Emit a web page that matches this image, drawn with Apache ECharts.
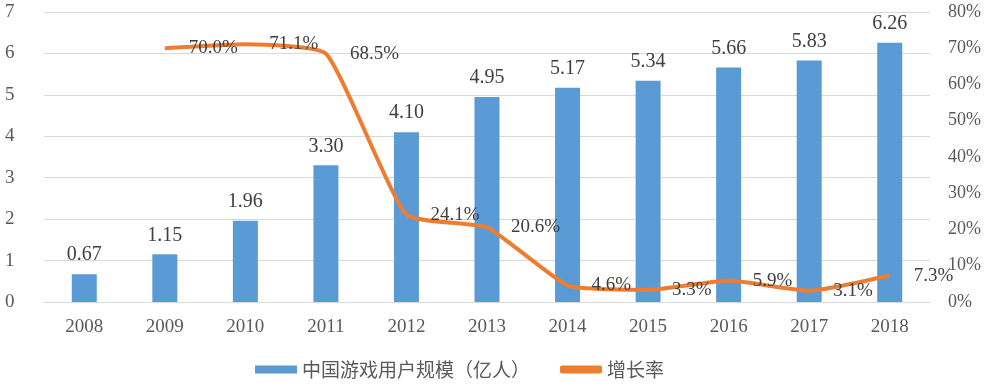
<!DOCTYPE html>
<html><head><meta charset="utf-8">
<script src="https://cdn.jsdelivr.net/npm/echarts@6/dist/echarts.min.js"></script>
<style>html,body{margin:0;padding:0;background:#fff}#c{width:1000px;height:389px}</style>
</head><body><div id="c"></div>
<script>
const years = ['2008','2009','2010','2011','2012','2013','2014','2015','2016','2017','2018'];
const users = [0.67,1.15,1.96,3.30,4.10,4.95,5.17,5.34,5.66,5.83,6.26];
const growth = [null,0.700,0.711,0.685,0.241,0.206,0.046,0.033,0.059,0.031,0.073];
const leftTicks = [0,1,2,3,4,5,6,7];
const rightTicks = [0,0.1,0.2,0.3,0.4,0.5,0.6,0.7,0.8];

const font = '"Liberation Serif","DejaVu Serif",serif';
const chart = echarts.init(document.getElementById('c'), null, {renderer:'canvas'});
chart.setOption({
  animation:false,
  backgroundColor:'#fff',
  grid:{left:44,right:70,top:12,bottom:87,containLabel:false},
  legend:{
    bottom:5,left:250,itemGap:30,itemWidth:42,itemHeight:8,
    textStyle:{fontFamily:'"Noto Sans CJK SC",sans-serif',fontSize:19,color:'#595959'},
    data:[{name:'中国游戏用户规模（亿人）',icon:'rect'},{name:'增长率',icon:'roundRect'}]
  },
  xAxis:{type:'category',data:years,
    axisLine:{lineStyle:{color:'#d9d9d9'}},axisTick:{show:false},
    axisLabel:{fontFamily:font,fontSize:19,color:'#595959',margin:16}},
  yAxis:[
    {type:'value',min:leftTicks[0],max:leftTicks[leftTicks.length-1],interval:1,
     axisLine:{show:false},axisTick:{show:false},
     splitLine:{lineStyle:{color:'#d9d9d9',width:1}},
     axisLabel:{fontFamily:font,fontSize:19,color:'#595959',margin:39,align:'left'}},
    {type:'value',min:rightTicks[0],max:rightTicks[rightTicks.length-1],interval:0.1,
     axisLine:{show:false},axisTick:{show:false},splitLine:{show:false},
     axisLabel:{fontFamily:font,fontSize:18,color:'#595959',margin:18,
       formatter:v=>Math.round(v*100)+'%'}}
  ],
  series:[
    {name:'中国游戏用户规模（亿人）',type:'bar',data:users,barWidth:25,
     itemStyle:{color:'#5B9BD5'},
     label:{show:true,position:'top',distance:9,fontFamily:font,fontSize:20,color:'#404040',
       formatter:p=>p.value.toFixed(2)}},
    {name:'增长率',type:'line',yAxisIndex:1,data:growth,smooth:0.15,showSymbol:true,symbol:'circle',symbolSize:0,
     lineStyle:{color:'#ED7D31',width:4},itemStyle:{color:'#ED7D31'},
     label:{show:true,position:'right',distance:24,fontFamily:font,fontSize:19,color:'#404040',
       formatter:p=>(p.value*100).toFixed(1)+'%'}}
  ]
});
</script></body></html>
